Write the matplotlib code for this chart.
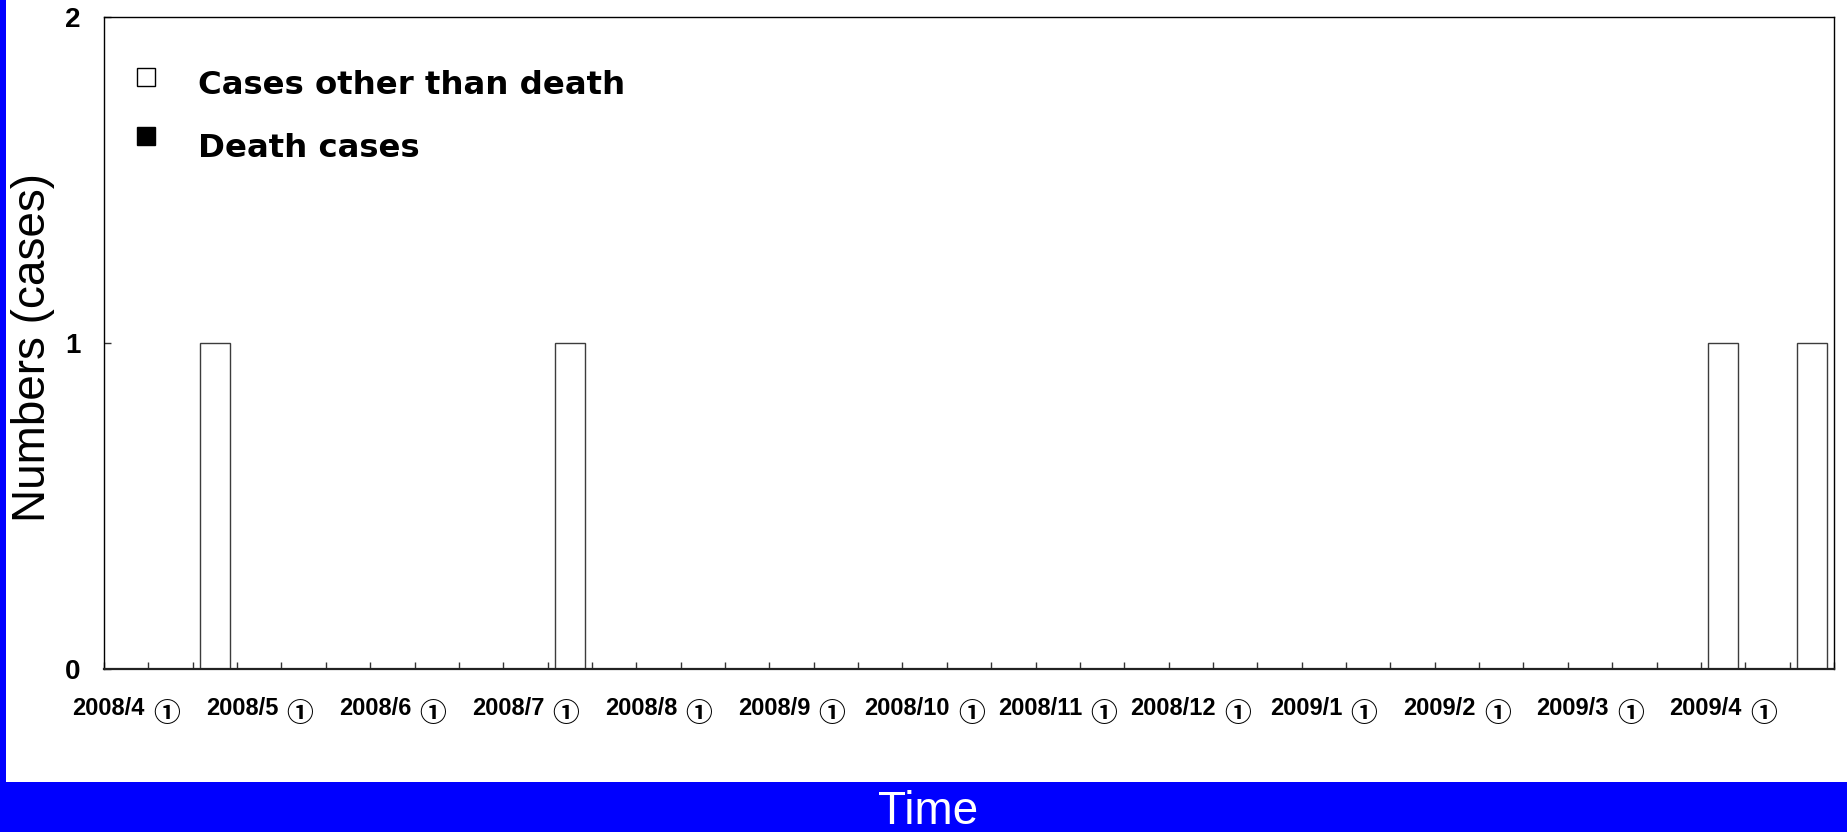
import matplotlib
matplotlib.use("Agg")
import matplotlib.pyplot as plt
from matplotlib.patches import Rectangle
import numpy as np

# Reporting months; each month is split into three ten-day periods (①, ②, ③)
months = ["2008/4", "2008/5", "2008/6", "2008/7", "2008/8", "2008/9", "2008/10",
          "2008/11", "2008/12", "2009/1", "2009/2", "2009/3", "2009/4"]
period_marks = ["①", "②", "③"]

# Case counts per ten-day period (three entries per month)
cases_other = [0, 0, 1,   # 2008/4
               0, 0, 0,   # 2008/5
               0, 0, 0,   # 2008/6
               0, 1, 0,   # 2008/7
               0, 0, 0,   # 2008/8
               0, 0, 0,   # 2008/9
               0, 0, 0,   # 2008/10
               0, 0, 0,   # 2008/11
               0, 0, 0,   # 2008/12
               0, 0, 0,   # 2009/1
               0, 0, 0,   # 2009/2
               0, 0, 0,   # 2009/3
               1, 0, 1]   # 2009/4
death_cases = [0, 0, 0,
               0, 0, 0,
               0, 0, 0,
               0, 0, 0,
               0, 0, 0,
               0, 0, 0,
               0, 0, 0,
               0, 0, 0,
               0, 0, 0,
               0, 0, 0,
               0, 0, 0,
               0, 0, 0,
               0, 0, 0]

series_labels = ["Cases other than death", "Death cases"]
series_faces = ["white", "black"]
y_ticks = [0, 1, 2]

W, H = 1847, 832
fig = plt.figure(figsize=(W / 100, H / 100), dpi=100)
fig.patch.set_facecolor("white")

# Blue frame: thin strip on the left and a band along the bottom
fig.patches.append(Rectangle((0, 0), 1, 50 / H, transform=fig.transFigure,
                             facecolor="#0000ff", edgecolor="none", zorder=0))
fig.patches.append(Rectangle((0, 0), 5.5 / W, 1, transform=fig.transFigure,
                             facecolor="#0000ff", edgecolor="none", zorder=0))

AX_L, AX_R, AX_T, AX_B = 104, 1834, 17, 669
ax = fig.add_axes([AX_L / W, 1 - AX_B / H, (AX_R - AX_L) / W, (AX_B - AX_T) / H])

n = len(cases_other)
x = np.arange(n)
ax.bar(x, cases_other, width=0.68, color=series_faces[0], edgecolor="#3c3c3c",
       linewidth=1.0, zorder=2)
ax.bar(x, death_cases, bottom=cases_other, width=0.68, color=series_faces[1],
       linewidth=0, zorder=2)

ax.set_xlim(-0.5, n - 0.5)
ax.set_ylim(y_ticks[0], y_ticks[-1])

# Tick marks on the period boundaries
ax.set_xticks(np.arange(n + 1) - 0.5)
ax.set_xticklabels([])
ax.tick_params(axis="x", which="major", direction="in", length=5, width=1,
               color="#333333")

ax.set_yticks(y_ticks, [str(v) for v in y_ticks])
ax.tick_params(axis="y", direction="in", length=5, width=1, color="#333333",
               pad=17)
for t in ax.get_yticklabels():
    t.set_fontfamily("Liberation Sans")
    t.set_fontweight("bold")
    t.set_fontsize(20)

for side in ["left", "right", "top"]:
    ax.spines[side].set_linewidth(1.0)
    ax.spines[side].set_color("black")
ax.spines["bottom"].set_linewidth(1.6)
ax.spines["bottom"].set_color("#222222")

# Month labels under the first period of each month: bold month text followed
# by the period mark, set slightly lower; the pair is centred on the period.
renderer = fig.canvas.get_renderer()
label_pos = np.arange(len(months)) * len(period_marks)
month_drop = 715 - AX_B
mark_drop = 722 - AX_B
gap = 8
for pos, m in zip(label_pos, months):
    t1 = ax.annotate(m, xy=(pos, 0), xycoords=("data", "axes fraction"),
                     xytext=(0, -month_drop), textcoords="offset pixels",
                     ha="left", va="baseline", fontsize=17, fontweight="bold",
                     family="Liberation Sans", annotation_clip=False)
    t2 = ax.annotate(period_marks[0], xy=(pos, 0),
                     xycoords=("data", "axes fraction"),
                     xytext=(0, -mark_drop), textcoords="offset pixels",
                     ha="left", va="baseline", fontsize=19.3, fontweight="bold",
                     family="Noto Sans CJK JP", annotation_clip=False)
    w1 = t1.get_window_extent(renderer).width
    w2 = t2.get_window_extent(renderer).width
    start = -(w1 + gap + w2) / 2
    t1.xyann = (start, -month_drop)
    t2.xyann = (start + w1 + gap, -mark_drop)

# Key in the upper-left corner of the plot area
def ax_x(px):
    return (px - AX_L) / (AX_R - AX_L)

def ax_y(py):
    return (AX_B - py) / (AX_B - AX_T)

key_rows = [(77, 94), (136, 157)]
for (sq_y, base_y), lab, face in zip(key_rows, series_labels, series_faces):
    ax.plot([ax_x(146)], [ax_y(sq_y)], marker="s", ls="none", markersize=12.5,
            markerfacecolor=face, markeredgecolor="black", markeredgewidth=1,
            transform=ax.transAxes, clip_on=False, zorder=5)
    ax.text(ax_x(198), ax_y(base_y), lab, transform=ax.transAxes,
            ha="left", va="baseline", fontsize=23.3, fontweight="bold",
            family="DejaVu Sans", color="black")

fig.text(0.0176, 0.5823, "Numbers (cases)", rotation=90, fontsize=33,
         ha="center", va="center", family="Liberation Sans", color="black")
fig.text(928 / W, 7.5 / H, "Time", fontsize=33, ha="center", va="baseline",
         family="Liberation Sans", color="white")

fig.savefig("out.png", dpi=100)
